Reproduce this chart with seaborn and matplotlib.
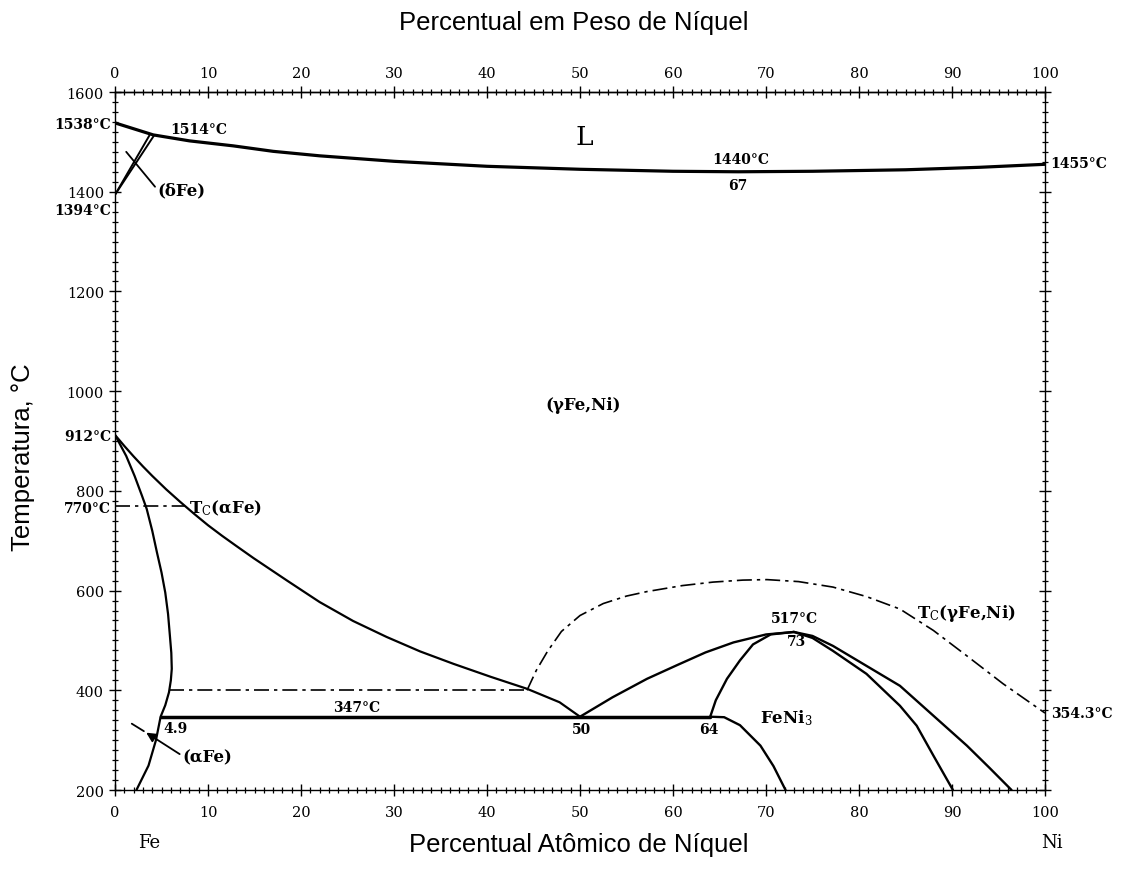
import numpy as np
import pandas as pd
import matplotlib
matplotlib.use("Agg")
import matplotlib.pyplot as plt
import seaborn as sns

# ---- phase boundaries (at.% Ni, temperature in °C) ----
liq_x = [0, 4.1, 8, 12.7, 17, 22, 30, 40, 50, 60, 67, 75, 85, 93, 100]
liq_t = [1538, 1514, 1502, 1492, 1481, 1472, 1461, 1451, 1445, 1441, 1440, 1441, 1444, 1449, 1455]

delta_a_x = [0, 3.7]
delta_a_t = [1394, 1513]
delta_b_x = [0, 4.2]
delta_b_t = [1394, 1513]

gamma_x = [0, 1, 2, 3, 4, 5.5, 7, 8.5, 10, 11.5, 13, 14.9, 18.5, 22, 25.6, 29.2,
           32.8, 36.4, 40.4, 44.3, 47.8, 50]
gamma_t = [912, 890, 869, 849, 830, 803, 778, 754, 731, 710, 690, 665, 620, 577, 539, 507,
           478, 453, 427, 403, 376, 347]

alpha_x = [0, 1.2, 2.1, 2.9, 3.4, 4.0, 4.5, 5.0, 5.4, 5.7, 5.9, 6.05, 6.1, 6.0, 5.8, 5.4,
           4.9, 4.4, 3.6, 2.3]
alpha_t = [912, 870, 830, 790, 764, 720, 677, 636, 596, 553, 509, 475, 443, 420, 396, 370,
           347, 300, 249, 200]

eut_x = [4.9, 64]
eut_t = [347, 347]

g_feni3_x = [50, 53.5, 57.2, 60.5, 63.5, 66.5, 70, 73]
g_feni3_t = [347, 386, 423, 451, 476, 496, 512, 517]

feni3_left_x = [64, 64.6, 65.8, 67.2, 68.6, 70.5, 73]
feni3_left_t = [347, 380, 423, 460, 492, 512, 517]

feni3_low_x = [64, 65.5, 67.2, 69.4, 70.8, 72.1]
feni3_low_t = [347, 346, 330, 289, 248, 200]

feni3_in_x = [73, 75, 77.2, 80.8, 84.4, 86.2, 88.0, 90.1]
feni3_in_t = [517, 505, 479, 433, 369, 329, 269, 200]

feni3_out_x = [73, 75, 77.2, 80.8, 84.4, 88.0, 91.6, 94, 96.4]
feni3_out_t = [517, 509, 489, 449, 409, 349, 289, 245, 200]

# ---- magnetic transitions (dash-dot) ----
tc_alpha_x = [0, 7.5]
tc_alpha_t = [770, 770]
tc_400_x = [5.8, 44.3]
tc_400_t = [400, 400]
tc_gamma_x = [44.3, 45.3, 46.5, 48, 50, 52.5, 55, 57.2, 61, 64.3, 67.5, 70.1, 73.5, 77.2,
              80.8, 84.4, 88, 91.6, 95.5, 100]
tc_gamma_t = [400, 440, 478, 518, 550, 574, 589, 598, 610, 617, 621, 622, 618, 607,
              588, 563, 520, 469, 413, 354.3]

# leader for the delta-Fe label
delta_lead_x = [1.2, 4.3]
delta_lead_t = [1480, 1410]

at_ticks = list(range(0, 101, 10))
wt_ticks = list(range(0, 101, 10))
temp_ticks = list(range(200, 1601, 200))

sns.set_theme(style="white")
plt.rcParams["font.family"] = ["DejaVu Serif"]
plt.rcParams["mathtext.fontset"] = "dejavuserif"
plt.rcParams["text.color"] = "black"
plt.rcParams["xtick.color"] = "black"
plt.rcParams["ytick.color"] = "black"
plt.rcParams["xtick.labelcolor"] = "black"
plt.rcParams["ytick.labelcolor"] = "black"

fig = plt.figure(figsize=(11.29, 8.70), dpi=100)
ax = fig.add_axes([0.1019, 0.0908, 0.8237, 0.8023])

solid = dict(color="black", sort=False, estimator=None, legend=False)
def draw(xs, ts, lw=1.5, ls="-"):
    df = pd.DataFrame({"x": xs, "t": ts})
    sns.lineplot(data=df, x="x", y="t", ax=ax, linewidth=lw, linestyle=ls, **solid)

draw(liq_x, liq_t, lw=2.3)
draw(delta_a_x, delta_a_t, lw=1.4)
draw(delta_b_x, delta_b_t, lw=1.4)
draw(delta_lead_x, delta_lead_t, lw=1.3)
draw(gamma_x, gamma_t, lw=1.6)
draw(alpha_x, alpha_t, lw=1.6)
draw(eut_x, eut_t, lw=2.5)
draw(g_feni3_x, g_feni3_t, lw=1.7)
draw(feni3_left_x, feni3_left_t, lw=1.7)
draw(feni3_low_x, feni3_low_t, lw=1.7)
draw(feni3_in_x, feni3_in_t, lw=1.7)
draw(feni3_out_x, feni3_out_t, lw=1.7)

dashdot = (0, (9, 3, 2, 3))
draw(tc_alpha_x, tc_alpha_t, lw=1.2, ls=dashdot)
draw(tc_400_x, tc_400_t, lw=1.2, ls=dashdot)
draw(tc_gamma_x, tc_gamma_t, lw=1.2, ls=dashdot)

# (alpha Fe) pointer
draw([3.1, 1.8], [318, 333], lw=1.3)
ax.annotate("", xy=(3.1, 318), xytext=(7.2, 269),
            arrowprops=dict(arrowstyle="-|>", color="black", lw=1.3, mutation_scale=14))

ax.set_xlim(0, 100)
ax.set_ylim(200, 1600)
ax.set_xlabel("")
ax.set_ylabel("")

# axes frame and ticks
for sp in ax.spines.values():
    sp.set_color("black")
    sp.set_linewidth(1.0)
ax.set_xticks(at_ticks)
ax.set_xticks(np.arange(0, 101, 1), minor=True)
ax.set_yticks(temp_ticks)
ax.set_yticks(np.arange(200, 1601, 20), minor=True)
ax.tick_params(which="major", direction="inout", length=9, width=1.0,
               labelsize=10.5, colors="black", bottom=True, left=True, right=True, top=False)
ax.tick_params(which="minor", direction="inout", length=4, width=0.9,
               bottom=True, left=True, right=True, top=False)
ax.tick_params(axis="x", pad=6)

top = ax.secondary_xaxis("top")
top.set_xticks(wt_ticks)
top.set_xticks(np.arange(0, 101, 1), minor=True)
top.tick_params(which="major", direction="inout", length=9, width=1.0, labelsize=10.5,
                pad=4, colors="black")
top.tick_params(which="minor", direction="inout", length=4, width=0.9, colors="black")
top.spines["top"].set_linewidth(1.0)
top.spines["top"].set_color("black")

# axis titles
sans = ["Liberation Sans", "DejaVu Sans"]
fig.text(0.508, 0.974, "Percentual em Peso de Níquel", ha="center", va="center",
         fontsize=18.5, family=sans, color="black")
fig.text(0.513, 0.029, "Percentual Atômico de Níquel", ha="center", va="center",
         fontsize=18.5, family=sans, color="black")
fig.text(0.020, 0.474, "Temperatura, °C", ha="center", va="center", rotation=90,
         fontsize=18.5, family=sans, color="black")

lab = dict(fontsize=10, fontweight="bold", color="black", clip_on=False)
# temperature labels on the left edge
for t, s in [(1536, "1538°C"), (1364, "1394°C"), (910, "912°C"), (766, "770°C")]:
    ax.text(-0.4, t, s, ha="right", va="center", **lab)
ax.text(5.9, 1526, "1514°C", ha="left", va="center", **lab)
ax.text(67.3, 1466, "1440°C", ha="center", va="center", **lab)
ax.text(67.0, 1413, "67", ha="center", va="center", **lab)
ax.text(100.6, 1457, "1455°C", ha="left", va="center", **lab)
ax.text(100.6, 354.3, "354.3°C", ha="left", va="center", **lab)
ax.text(73.1, 545, "517°C", ha="center", va="center", **lab)
ax.text(73.3, 499, "73", ha="center", va="center", **lab)
ax.text(26.0, 366, "347°C", ha="center", va="center", **lab)
ax.text(5.2, 325, "4.9", ha="left", va="center", **lab)
ax.text(50.2, 322, "50", ha="center", va="center", **lab)
ax.text(63.8, 322, "64", ha="center", va="center", **lab)

phase = dict(fontsize=12, fontweight="bold", color="black")
ax.text(50.5, 1510, "L", ha="center", va="center", fontsize=19, color="black")
ax.text(50.3, 974, "(γFe,Ni)", ha="center", va="center", **phase)
ax.text(4.6, 1404, "(δFe)", ha="left", va="center", **phase)
ax.text(8.0, 768, r"T$_\mathrm{C}$(αFe)", ha="left", va="center", **phase)
ax.text(86.2, 557, r"T$_\mathrm{C}$(γFe,Ni)", ha="left", va="center", **phase)
ax.text(69.3, 347, r"FeNi$_3$", ha="left", va="center", **phase)
ax.text(7.2, 267, "(αFe)", ha="left", va="center", **phase)

ax.text(3.7, 96, "Fe", ha="center", va="center", fontsize=13, color="black", clip_on=False)
ax.text(100.8, 96, "Ni", ha="center", va="center", fontsize=13, color="black", clip_on=False)

fig.savefig("out.png", dpi=100, facecolor="white")
